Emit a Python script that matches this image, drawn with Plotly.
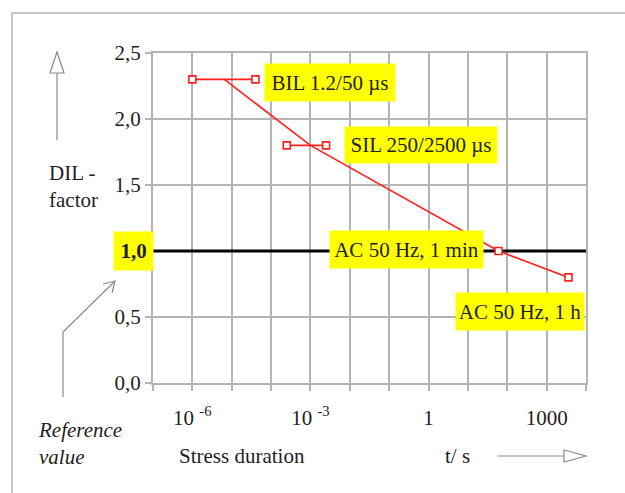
import plotly.graph_objects as go

# ---- data ----
bil_x = [1e-6, 4e-5]
bil_y = [2.3, 2.3]
sil_x = [2.5e-4, 2.5e-3]
sil_y = [1.8, 1.8]
curve_x = [6.5e-6, 1e-3, 60, 3600]
curve_y = [2.3, 1.8, 1.0, 0.8]
ac_x = [60, 3600]
ac_y = [1.0, 0.8]
ref_x = [1e-7, 1e4]
ref_y = [1.0, 1.0]

x_tickvals = [1e-7, 1e-6, 1e-5, 1e-4, 1e-3, 1e-2, 1e-1, 1, 10, 100, 1000, 1e4]
x_ticktext = ["", "10 <sup>-6</sup>", "", "", "10 <sup>-3</sup>", "", "", "1", "", "", "1000", ""]
y_tickvals = [0, 0.5, 1.0, 1.5, 2.0, 2.5]
y_ticktext = ["0,0", "0,5", "", "1,5", "2,0", "2,5"]

labels = ["BIL 1.2/50 µs", "SIL 250/2500 µs", "AC 50 Hz, 1 min", "AC 50 Hz, 1 h"]

# ---- layout geometry (pixels) ----
W, H = 625, 493
L, R, T, B = 153, 586, 53, 383

def px(x):
    return (x - L) / (R - L)

def py(y):
    return (B - y) / (B - T)

FONT = "Liberation Serif"
FS = 21
RED = "#ff1f1f"
GRID = "#b4b4b4"
TXT = "#1e1e1e"

fig = go.Figure()

fig.add_trace(go.Scatter(x=ref_x, y=ref_y, mode="lines",
                         line=dict(color="black", width=3), hoverinfo="skip"))
fig.add_trace(go.Scatter(x=curve_x, y=curve_y, mode="lines",
                         line=dict(color=RED, width=1.6)))
marker = dict(symbol="square", size=7, color="white", line=dict(color=RED, width=1.6))
fig.add_trace(go.Scatter(x=bil_x, y=bil_y, mode="lines+markers",
                         line=dict(color=RED, width=1.6), marker=marker))
fig.add_trace(go.Scatter(x=sil_x, y=sil_y, mode="lines+markers",
                         line=dict(color=RED, width=1.6), marker=marker))
fig.add_trace(go.Scatter(x=ac_x, y=ac_y, mode="markers", marker=marker))

fig.update_layout(
    width=W, height=H,
    margin=dict(l=L, r=W - R, t=T, b=H - B, pad=0),
    paper_bgcolor="white", plot_bgcolor="white",
    showlegend=False,
    font=dict(family=FONT, size=FS, color=TXT),
)
fig.update_xaxes(
    type="log", range=[-7, 4],
    tickvals=x_tickvals, ticktext=x_ticktext,
    showgrid=True, gridcolor=GRID, gridwidth=1.5,
    showline=True, linecolor=GRID, linewidth=1.5, mirror=True,
    ticks="outside", ticklen=6, tickcolor=GRID, tickwidth=1.5,
    ticklabelstandoff=9,
    tickfont=dict(family=FONT, size=FS, color=TXT),
    zeroline=False,
)
fig.update_yaxes(
    range=[0, 2.5],
    tickvals=y_tickvals, ticktext=y_ticktext,
    showgrid=True, gridcolor=GRID, gridwidth=1.5,
    showline=True, linecolor=GRID, linewidth=2, mirror=True,
    ticks="outside", ticklen=6, tickcolor=GRID, tickwidth=1.5,
    tickfont=dict(family=FONT, size=FS, color=TXT),
    zeroline=False,
)

def ann(text, x, y, xanchor="center", yanchor="middle", bg=None, pad=4, align="center", **kw):
    fig.add_annotation(text=text, xref="paper", yref="paper", x=px(x), y=py(y),
                       xanchor=xanchor, yanchor=yanchor, showarrow=False,
                       bgcolor=bg, borderpad=pad, align=align,
                       font=dict(family=FONT, size=FS, color=TXT), **kw)

YEL = "#ffff00"
ann(labels[0], 330, 82, bg=YEL, width=122, height=29)
ann(labels[1], 421, 145, bg=YEL, width=144, height=28)
ann(labels[2], 406, 249, bg=YEL, width=145, height=29)
ann(labels[3], 520, 311, bg=YEL, width=120, height=29)
ann("<b>1,0</b>", 133, 251, bg=YEL, width=31, height=30)

ann("DIL -<br>factor", 48, 187, xanchor="left", align="left", pad=0)
ann("<i>Reference</i><br><i>value</i>", 37, 443, xanchor="left", align="left", pad=0)
ann("Stress duration", 178, 456, xanchor="left", pad=0)
ann("t/ s", 444, 456, xanchor="left", pad=0)

ARROW = "#8a8a8a"
NOFILL = "rgba(0,0,0,0)"

def line(x0, y0, x1, y1, color=ARROW, width=1.2):
    fig.add_shape(type="line", xref="paper", yref="paper",
                  x0=px(x0), y0=py(y0), x1=px(x1), y1=py(y1),
                  line=dict(color=color, width=width))

def path(points, closed=False, color=ARROW, width=1.2):
    d = "M " + " L ".join(f"{px(a):.5f},{py(b):.5f}" for a, b in points)
    if closed:
        d += " Z"
    fig.add_shape(type="path", xref="paper", yref="paper", path=d,
                  line=dict(color=color, width=width),
                  fillcolor="white" if closed else NOFILL)

# frame around the figure
path([(12, 500), (12, 13), (630, 13)], color="#c8c8c8", width=2)

# up arrow (DIL-factor)
line(57, 140, 57, 72)
path([(50, 73), (57, 52), (64, 73)], closed=True)

# right arrow (t/s)
line(497, 456, 565, 456)
path([(564, 450), (586, 456), (564, 462)], closed=True)

# reference value arrow
path([(63, 397), (63, 332), (115, 281)])
path([(103, 284), (115, 281), (112, 293)])

fig.write_html("out.html", config={"displayModeBar": False},
               post_script="document.body.style.margin='0';")
